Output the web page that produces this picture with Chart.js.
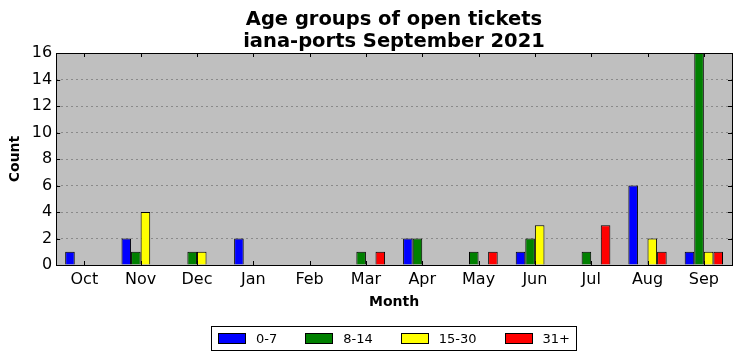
<!DOCTYPE html>
<html>
<head>
<meta charset="utf-8">
<style>
  html, body { margin: 0; padding: 0; background: #fff; }
  #wrap { position: relative; width: 741px; height: 361px; }
  #title {
    position: absolute; top: 8px; left: 56px; width: 676px;
    text-align: center; font: bold 19.5px/22px 'DejaVu Sans', sans-serif; color: #000;
  }
  #legend {
    position: absolute; left: 211px; top: 326px; height: 23px;
    border: 1px solid #000; box-sizing: content-box;
    display: flex; align-items: center; padding: 0 6px;
    font: 13px 'DejaVu Sans', sans-serif; color: #000; white-space: nowrap;
  }
  #legend .item { display: flex; align-items: center; margin-right: 28px; }
  #legend .item:last-child { margin-right: 0; }
  #legend .swatch { width: 26px; height: 9px; border: 1px solid #000; margin-right: 10px; }
</style>
<script src="https://cdn.jsdelivr.net/npm/chart.js@4/dist/chart.umd.min.js"></script>
</head>
<body>
<div id="wrap">
  <canvas id="age-groups-chart"></canvas>
  <div id="title">Age groups of open tickets<br>iana-ports September 2021</div>
  <div id="legend"></div>
</div>
<script>
const months = ['Oct', 'Nov', 'Dec', 'Jan', 'Feb', 'Mar', 'Apr', 'May', 'Jun', 'Jul', 'Aug', 'Sep'];
const age0to7 = [1, 2, 0, 2, 0, 0, 2, 0, 1, 0, 6, 1];
const age8to14 = [0, 1, 1, 0, 0, 1, 2, 1, 2, 1, 0, 16];
const age15to30 = [0, 4, 1, 0, 0, 0, 0, 0, 3, 0, 2, 1];
const age31plus = [0, 0, 0, 0, 0, 1, 0, 1, 0, 3, 1, 1];
const yTicks = [0, 2, 4, 6, 8, 10, 12, 14, 16];

const font = 'DejaVu Sans';

// grey plot background, black frame and inward ticks (matplotlib classic look)
const framePlugin = {
  id: 'frame',
  beforeDraw: (chart) => {
    const { ctx, chartArea: a } = chart;
    ctx.save();
    ctx.fillStyle = '#bfbfbf';
    ctx.fillRect(a.left, a.top, a.right - a.left, a.bottom - a.top);
    ctx.restore();
  },
  afterDraw: (chart) => {
    const { ctx, chartArea: a, scales } = chart;
    ctx.save();
    ctx.strokeStyle = '#000';
    ctx.lineWidth = 1;
    ctx.beginPath();
    months.forEach((m, i) => {
      const x = Math.round(scales.x.getPixelForValue(i)) + 0.5;
      ctx.moveTo(x, a.bottom); ctx.lineTo(x, a.bottom - 4);
      ctx.moveTo(x, a.top); ctx.lineTo(x, a.top + 4);
    });
    yTicks.forEach((v) => {
      const y = Math.round(scales.y.getPixelForValue(v)) + 0.5;
      ctx.moveTo(a.left, y); ctx.lineTo(a.left + 4, y);
      ctx.moveTo(a.right, y); ctx.lineTo(a.right - 4, y);
    });
    ctx.stroke();
    ctx.strokeRect(Math.round(a.left) + 0.5, Math.round(a.top) + 0.5,
      Math.round(a.right - a.left), Math.round(a.bottom - a.top));
    ctx.restore();
  }
};

const makeSet = (label, data, color) => ({
  label: label,
  data: data,
  backgroundColor: color,
  borderColor: '#000',
  borderWidth: 1,
  borderSkipped: 'start',
  barPercentage: 1,
  categoryPercentage: 0.68
});

const chart = new Chart(document.querySelector('#age-groups-chart'), {
  type: 'bar',
  data: {
    labels: months,
    datasets: [
      makeSet('0-7', age0to7, '#0000ff'),
      makeSet('8-14', age8to14, '#008000'),
      makeSet('15-30', age15to30, '#ffff00'),
      makeSet('31+', age31plus, '#ff0000')
    ]
  },
  options: {
    responsive: true,
    maintainAspectRatio: false,
    animation: false,
    layout: { padding: { left: 7, right: 9, top: 53, bottom: 50 } },
    plugins: {
      legend: { display: false },
      tooltip: { enabled: false }
    },
    scales: {
      x: {
        offset: true,
        grid: { display: false, drawTicks: false },
        border: { display: false },
        ticks: { color: '#000', font: { family: font, size: 16 }, padding: 5 },
        title: {
          display: true,
          text: 'Month',
          color: '#000',
          font: { family: font, size: 14, weight: 'bold' },
          padding: { top: 0, bottom: 0 }
        }
      },
      y: {
        min: 0,
        max: 16,
        grid: { color: '#8a8a8a', drawTicks: false },
        border: { display: false, dash: [2, 3] },
        ticks: { color: '#000', font: { family: font, size: 16 }, stepSize: 2, padding: 4 },
        title: {
          display: true,
          text: 'Count',
          color: '#000',
          font: { family: font, size: 14, weight: 'bold' },
          padding: { top: 0, bottom: 4 }
        }
      }
    }
  },
  plugins: [framePlugin]
});

// legend as plain html under the plot
const legendEl = document.querySelector('#legend');
chart.data.datasets.forEach((ds) => {
  const item = document.createElement('span');
  item.className = 'item';
  item.innerHTML = `<span class="swatch" style="background:${ds.backgroundColor}"></span>${ds.label}`;
  legendEl.appendChild(item);
});
</script>
</body>
</html>
